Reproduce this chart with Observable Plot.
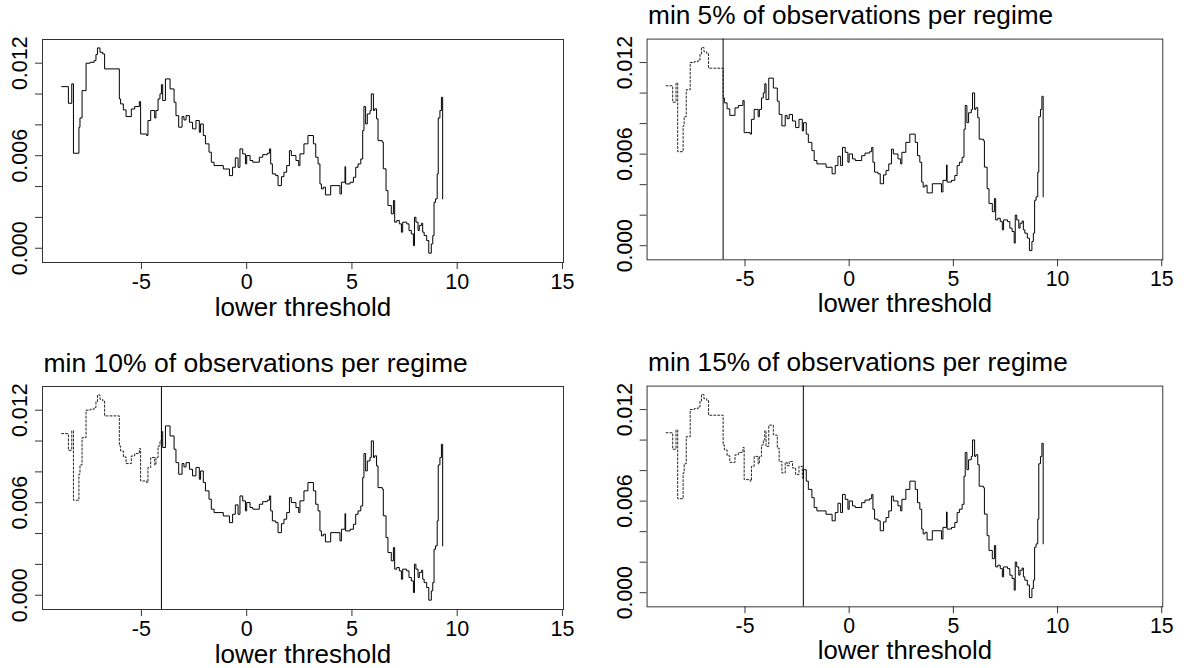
<!DOCTYPE html>
<html>
<head>
<meta charset="utf-8">
<script src="https://cdn.jsdelivr.net/npm/d3@7"></script>
<script src="https://cdn.jsdelivr.net/npm/@observablehq/plot@0.6"></script>
<style>
  html, body { margin: 0; padding: 0; background: #fff; }
  #page { position: relative; width: 1189px; height: 668px; overflow: hidden; background: #fff; }
  .panel { position: absolute; }
</style>
</head>
<body>
<div id="page"></div>
<script>
// lower threshold (start of each step)
const thresholds = [-8.79,-8.47,-8.31,-8.23,-7.97,-7.92,-7.82,-7.63,-7.44,-7.25,
  -7.16,-7.09,-6.97,-6.84,-6.75,-6.05,-5.99,-5.86,-5.73,-5.48,
  -5.32,-5.10,-5.04,-4.75,-4.69,-4.56,-4.37,-4.31,-4.21,-4.12,
  -4.05,-3.99,-3.86,-3.64,-3.45,-3.36,-3.23,-3.07,-2.98,-2.88,
  -2.72,-2.57,-2.41,-2.25,-2.19,-2.06,-1.96,-1.79,-1.68,-1.55,
  -1.11,-0.82,-0.67,-0.54,-0.41,-0.32,-0.19,-0.06,0.00,0.16,
  0.29,0.60,0.76,0.98,1.08,1.14,1.22,1.38,1.49,1.65,
  1.77,1.90,2.03,2.12,2.34,2.47,2.53,
  2.72,2.91,3.17,3.28,3.39,3.48,3.55,3.64,3.74,3.99,
  4.43,4.50,4.67,4.70,4.91,5.07,5.18,5.29,5.42,5.51,
  5.57,5.65,5.73,5.86,5.92,6.02,6.08,6.17,6.24,6.44,
  6.49,6.62,6.71,6.87,6.97,7.03,7.13,7.25,7.35,7.41,
  7.60,7.71,7.82,7.92,7.97,8.04,8.14,8.20,8.30,8.36,
  8.43,8.55,8.65,8.77,8.84,8.90,8.97,9.05,9.10,9.18,
  9.25,9.31];
// criterion value for each step
const values = [0.01048,0.00940,0.01066,0.00616,0.00785,0.00845,0.01022,0.01200,0.01206,0.01217,
  0.01256,0.01299,0.01271,0.01260,0.01163,0.00968,0.00936,0.00897,0.00854,0.00903,
  0.00919,0.00951,0.00741,0.00731,0.00828,0.00893,0.00845,0.00893,0.00968,0.01001,
  0.01061,0.00958,0.01098,0.01033,0.00947,0.00860,0.00785,0.00854,0.00832,0.00860,
  0.00817,0.00774,0.00828,0.00752,0.00806,0.00731,0.00677,0.00623,0.00558,0.00536,
  0.00514,0.00471,0.00525,0.00586,0.00525,0.00644,0.00612,0.00547,0.00601,0.00569,
  0.00558,0.00590,0.00607,0.00616,0.00644,0.00547,0.00482,0.00471,0.00406,0.00464,
  0.00493,0.00536,0.00633,0.00601,0.00569,0.00536,0.00612,
  0.00677,0.00731,0.00677,0.00590,0.00547,0.00417,0.00385,0.00396,0.00346,0.00406,
  0.00352,0.00428,0.00529,0.00417,0.00428,0.00460,0.00525,0.00547,0.00579,0.00763,
  0.00919,0.00806,0.00871,0.00893,0.01001,0.00893,0.00904,0.00839,0.00698,0.00688,
  0.00515,0.00374,0.00277,0.00223,0.00309,0.00169,0.00180,0.00158,0.00104,0.00169,
  0.00158,0.00115,0.00093,0.00017,0.00201,0.00169,0.00115,0.00147,0.00162,0.00104,
  0.00082,0.00050,-0.00032,0.00028,0.00082,0.00298,0.00320,0.00482,0.00845,0.00893,
  0.00979,0.00320];

const titles = [null, "min 5% of observations per regime", "min 10% of observations per regime", "min 15% of observations per regime"];
const cutoffs = [null, -6.05, -4.05, -2.20];
const xTicks = [-5, 0, 5, 10, 15];
const yTicks = [0, 0.002, 0.004, 0.006, 0.008, 0.010, 0.012];
const yLabelTicks = [0, 0.006, 0.012];
const xLabel = "lower threshold";

const xDomain = [-9.70, 15.05];
const yDomain = [-0.000925, 0.013537];

const data = thresholds.map((x, i) => ({x, y: values[i]}));

function valueAt(c) {
  let v = data[0].y;
  for (const d of data) if (d.x <= c) v = d.y;
  return v;
}

const font = "'Liberation Sans', Arial, sans-serif";
const page = document.getElementById("page");
const positions = [[0, 0], [605, 0], [0, 347], [605, 347]];

positions.forEach(([left, top], k) => {
  const H = k < 2 ? 330 : 321;
  const W = 590;
  const marginTop = 39, plotH = 223, marginLeft = 42, plotW = 521;
  const cutoff = cutoffs[k];
  const marks = [
    Plot.frame({stroke: "#333"}),
    Plot.axisX({ticks: xTicks, tickFormat: d => String(d), tickSize: 7, tickPadding: 4, fontSize: 21.5, label: null, stroke: "#333"}),
    Plot.axisY({ticks: yTicks, tickSize: 7, tickFormat: () => "", label: null, stroke: "#333"}),
    Plot.text(yLabelTicks, {y: d => d, text: d => d.toFixed(3), frameAnchor: "left", rotate: -90,
      textAnchor: "middle", lineAnchor: "bottom", dx: -15.5, fontSize: 21.5}),
    Plot.text([xLabel], {frameAnchor: "bottom", dy: 53, lineAnchor: "bottom", fontSize: 26})
  ];
  if (titles[k]) {
    marks.push(Plot.text([titles[k]], {frameAnchor: "top-left", textAnchor: "start", lineAnchor: "bottom",
      dx: 1, dy: -15, fontSize: 26.5}));
  }
  if (cutoff == null) {
    marks.push(Plot.line(data, {x: "x", y: "y", curve: "step-after", stroke: "#000", strokeWidth: 1}));
  } else {
    const vc = valueAt(cutoff);
    const before = data.filter(d => d.x < cutoff).concat([{x: cutoff, y: vc}]);
    const after = [{x: cutoff, y: vc}].concat(data.filter(d => d.x > cutoff));
    marks.push(Plot.line(before, {x: "x", y: "y", curve: "step-after", stroke: "#222", strokeWidth: 1, strokeDasharray: "2,2"}));
    marks.push(Plot.line(after, {x: "x", y: "y", curve: "step-after", stroke: "#000", strokeWidth: 1}));
    marks.push(Plot.ruleX([cutoff], {stroke: "#000", strokeWidth: 1}));
  }
  const chart = Plot.plot({
    width: W, height: H,
    marginLeft, marginTop, marginRight: W - marginLeft - plotW, marginBottom: H - marginTop - plotH,
    x: {domain: xDomain},
    y: {domain: yDomain},
    style: {fontFamily: font, background: "transparent", color: "#000", overflow: "visible"},
    marks
  });
  const div = document.createElement("div");
  div.className = "panel";
  div.style.left = left + "px";
  div.style.top = top + "px";
  div.appendChild(chart);
  page.appendChild(div);
});
</script>
</body>
</html>
